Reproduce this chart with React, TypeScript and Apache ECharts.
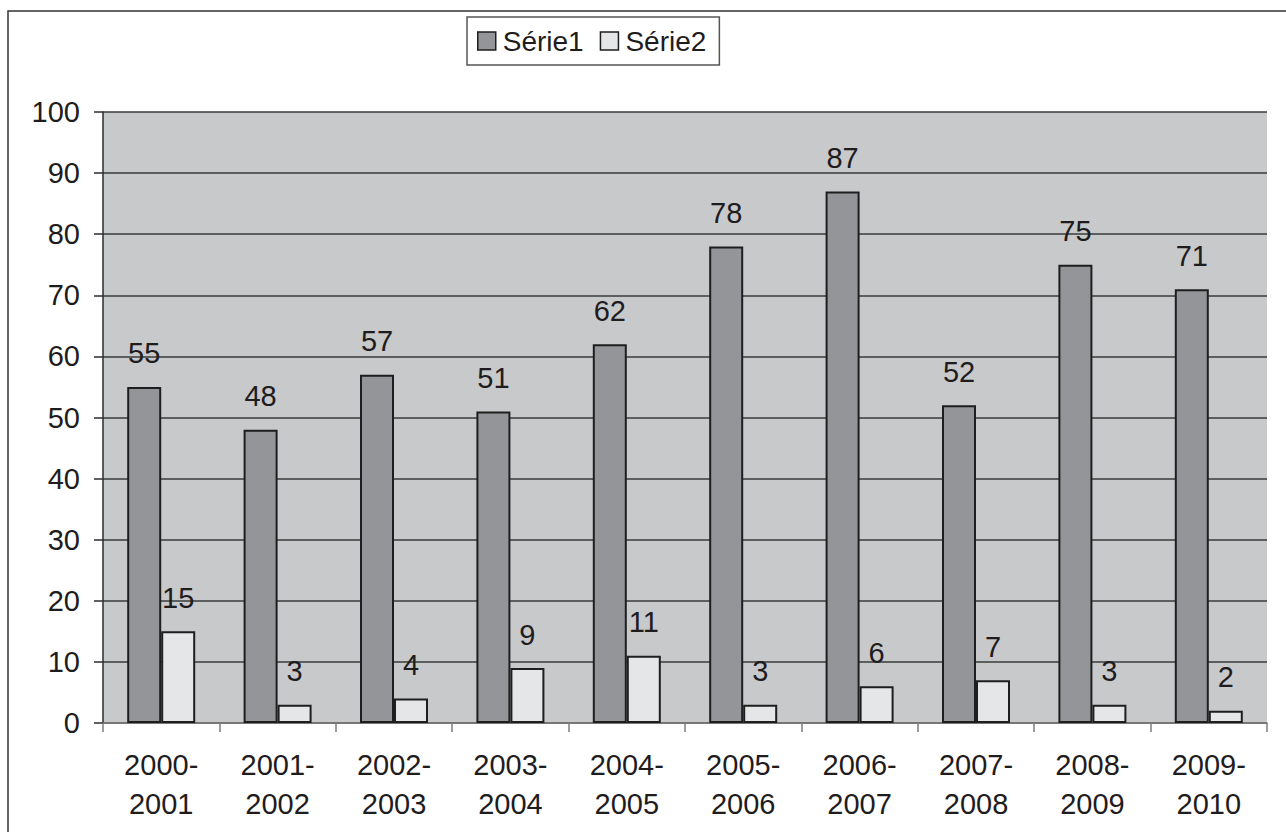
import React, { useEffect, useRef } from "react";
import * as echarts from "echarts";

// Season categories and the two series of values
const categories = [
  "2000-\n2001",
  "2001-\n2002",
  "2002-\n2003",
  "2003-\n2004",
  "2004-\n2005",
  "2005-\n2006",
  "2006-\n2007",
  "2007-\n2008",
  "2008-\n2009",
  "2009-\n2010",
];
const serie1 = [55, 48, 57, 51, 62, 78, 87, 52, 75, 71];
const serie2 = [15, 3, 4, 9, 11, 3, 6, 7, 3, 2];
const seriesNames = ["Série1", "Série2"];

const FONT = "'Liberation Sans', Arial, Helvetica, sans-serif";
const TEXT = "#1f1c1d";
const DARK = "#2b2b2b";
const FS = 29;

export default function App() {
  const ref = useRef<HTMLDivElement>(null);

  useEffect(() => {
    if (!ref.current) return;
    const chart = echarts.init(ref.current, null, { renderer: "svg" });

    const barSeries = (name: string, data: number[], color: string) => ({
      name,
      type: "bar",
      data,
      barWidth: 34,
      barGap: "0%",
      itemStyle: { color, borderColor: "#1e1e1e", borderWidth: 2 },
      label: {
        show: true,
        position: "top",
        distance: 19,
        fontSize: FS,
        fontFamily: FONT,
        color: TEXT,
      },
    });

    chart.setOption({
      animation: false,
      textStyle: { fontFamily: FONT, color: TEXT },
      graphic: [
        {
          type: "rect",
          shape: { x: 8, y: 11, width: 1300, height: 900 },
          style: { fill: "none", stroke: "#333", lineWidth: 1.5 },
          silent: true,
        },
      ],
      legend: {
        data: seriesNames,
        left: 467,
        top: 17,
        orient: "horizontal",
        padding: [10, 13, 10, 10],
        itemWidth: 18,
        itemHeight: 18,
        itemGap: 16,
        borderColor: "#555",
        borderWidth: 1.5,
        backgroundColor: "#fff",
        icon: "rect",
        itemStyle: { borderColor: "#1e1e1e", borderWidth: 1.5 },
        textStyle: { fontSize: 28, fontFamily: FONT, color: TEXT, padding: [0, 0, 0, 2] },
      },
      grid: {
        left: 103,
        right: 19,
        top: 112,
        bottom: 109,
        show: true,
        backgroundColor: "#c8c9cb",
        borderWidth: 0,
      },
      xAxis: {
        type: "category",
        data: categories,
        axisLine: { show: true, lineStyle: { color: "#7d7d7d", width: 1.5 } },
        axisTick: { show: true, length: 9, lineStyle: { color: "#7d7d7d", width: 1.5 } },
        axisLabel: {
          interval: 0,
          margin: 22,
          fontSize: FS,
          lineHeight: 39,
          fontFamily: FONT,
          color: TEXT,
        },
        splitLine: { show: false },
      },
      yAxis: {
        type: "value",
        min: 0,
        max: 100,
        interval: 10,
        axisLine: { show: true, lineStyle: { color: DARK, width: 1.5 } },
        axisTick: { show: true, length: 9, lineStyle: { color: DARK, width: 1.5 } },
        axisLabel: { margin: 23, fontSize: FS, fontFamily: FONT, color: TEXT },
        splitLine: { show: true, lineStyle: { color: "#3a3a3a", width: 1.5 } },
      },
      series: [
        barSeries(seriesNames[0], serie1, "#949598"),
        barSeries(seriesNames[1], serie2, "#e5e6e7"),
      ],
    });

    return () => chart.dispose();
  }, []);

  return (
    <div
      ref={ref}
      style={{ position: "fixed", left: 0, top: 0, width: 1286, height: 832, background: "#fff" }}
    />
  );
}
